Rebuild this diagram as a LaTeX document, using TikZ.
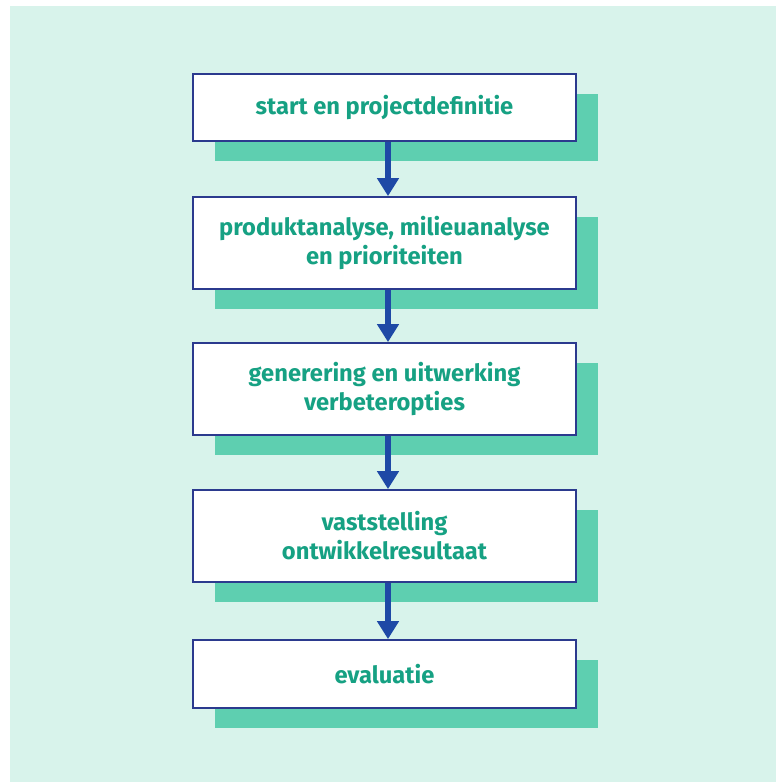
\documentclass[tikz,border=0pt]{standalone}
\usepackage{fontspec}
\setmainfont{Fira Sans}
\usetikzlibrary{arrows.meta, shadows}
\definecolor{achtergrond}{HTML}{D8F3EB}
\definecolor{schaduw}{HTML}{5ECFB0}
\definecolor{tekstgroen}{HTML}{16A183}
\definecolor{randblauw}{HTML}{2B3A8E}
\definecolor{pijlblauw}{HTML}{1E49A6}

\begin{document}
\begin{tikzpicture}[
    stap/.style={draw=randblauw, line width=1pt, fill=white,
        minimum width=7.66cm, align=center, text=tekstgroen,
        font=\fontsize{13.5}{16.5}\selectfont\bfseries,
        general shadow={shadow xshift=0.44cm, shadow yshift=-0.4cm, fill=schaduw}},
    pijl/.style={pijlblauw, line width=3.2pt, -{Triangle[width=0.42cm,length=0.36cm]}}
]
        % Achtergrond
        \useasboundingbox (0,0) rectangle (15.52,-15.64);
        \fill[achtergrond] (0.2,-0.12) rectangle (15.52,-15.64);
        % Stappen
        \node[stap, minimum height=1.34cm] (start) at (7.69,-2.15) {start en projectdefinitie};
        \node[stap, minimum height=1.84cm] (analyse) at (7.69,-4.86) {produktanalyse, milieuanalyse\\en prioriteiten};
        \node[stap, minimum height=1.84cm] (opties) at (7.69,-7.78) {generering en uitwerking\\verbeteropties};
        \node[stap, minimum height=1.84cm] (resultaat) at (7.69,-10.72) {vaststelling\\ontwikkelresultaat};
        \node[stap, minimum height=1.36cm] (evaluatie) at (7.69,-13.48) {evaluatie};
        % Pijlen
        \draw[pijl] ([xshift=0.07cm]start.south) -- ([xshift=0.07cm]analyse.north);
        \draw[pijl] ([xshift=0.07cm]analyse.south) -- ([xshift=0.07cm]opties.north);
        \draw[pijl] ([xshift=0.07cm]opties.south) -- ([xshift=0.07cm]resultaat.north);
        \draw[pijl] ([xshift=0.07cm]resultaat.south) -- ([xshift=0.07cm]evaluatie.north);
\end{tikzpicture}
\end{document}
